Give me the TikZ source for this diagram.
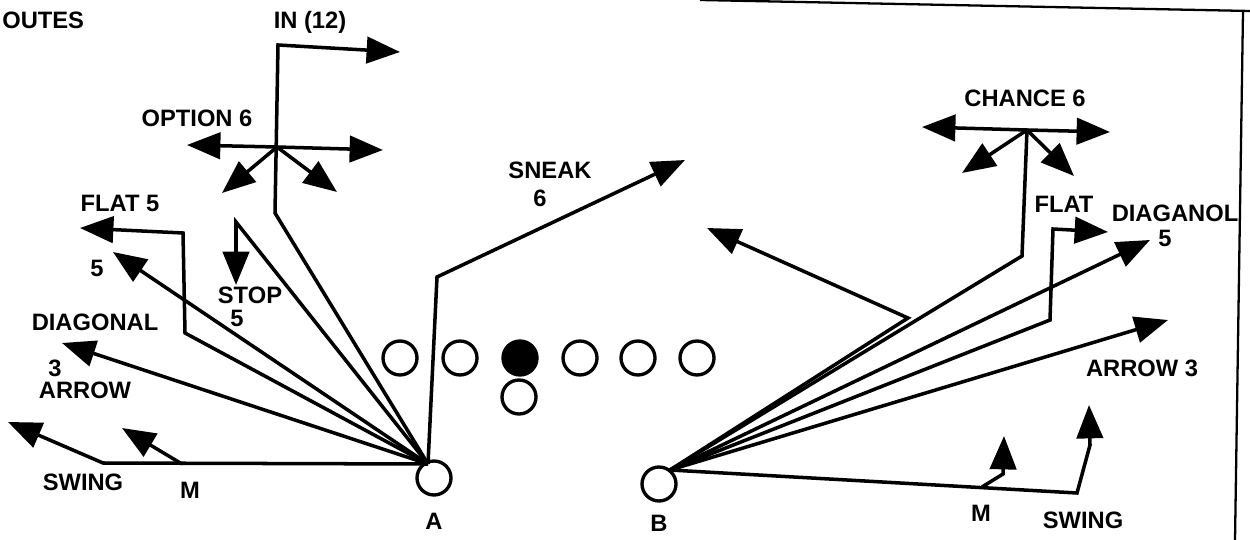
\documentclass[tikz,border=0pt]{standalone}
\usepackage{fontspec}
\setmainfont{Liberation Sans}
\usetikzlibrary{arrows.meta}
\begin{document}
\begin{tikzpicture}[x=0.02cm,y=-0.02cm,
  route/.style={line width=2pt, line join=miter},
  arr/.style={route, -{Triangle[length=19pt,width=15pt]}},
  lbl/.style={font=\fontsize{13.5}{13.5}\selectfont\bfseries, inner sep=0pt},
  player/.style={circle, draw, line width=1.9pt, minimum size=0.68cm, inner sep=0pt},
  center/.style={player, fill=black},
  frame/.style={line width=1.3pt},
]
\useasboundingbox (0,0) rectangle (1250,540);

% frame
\coordinate (f1) at (700,0);
\coordinate (f2) at (1250,11);
\coordinate (f3) at (1243,11);
\coordinate (f4) at (1235,540);
\draw[frame] (f1) -- (f2);
\draw[frame] (f3) -- (f4);

% line of scrimmage
\node[player] (l1) at (400,358) {};
\node[player] (l2) at (460,358) {};
\node[center] (l3) at (520,358) {};
\node[player] (l4) at (580,358) {};
\node[player] (l5) at (638,358) {};
\node[player] (l6) at (697,358) {};
\node[player] (qb) at (519,397) {};

% backs
\node[player] (A) at (434,478) {};
\node[player] (B) at (659,484) {};
\node[lbl] (Alab) at (434,521) {A};
\node[lbl] (Blab) at (659,523) {B};
\coordinate (a0) at (428,464);
\coordinate (b0) at (670,470);

% ---------- A routes ----------
% swing
\coordinate (sw1) at (103,463);
\coordinate (sw2) at (8,422);
\draw[arr] (a0) -- (sw1) -- (sw2);
\coordinate (m1) at (182,464);
\coordinate (m2) at (122,428);
\draw[arr] (m1) -- (m2);
% arrow 3
\coordinate (ar) at (62,343);
\draw[arr] (a0) -- (ar);
% flat 5
\coordinate (fl1) at (185,333);
\coordinate (fl2) at (183,233);
\coordinate (fl3) at (80,228);
\draw[arr] (a0) -- (fl1) -- (fl2) -- (fl3);
% 5
\coordinate (f5) at (113,252);
\draw[arr] (a0) -- (f5);
% stop
\coordinate (st1) at (236,222);
\coordinate (st2) at (236,285);
\draw[arr] (a0) -- (st1) -- (st2);
% in / option
\coordinate (in1) at (275,213);
\coordinate (op) at (277,147);
\coordinate (in2) at (278,45);
\coordinate (in3) at (400,52);
\draw[arr] (a0) -- (in1) -- (in2) -- (in3);
\coordinate (opl) at (187,145);
\coordinate (opr) at (383,150);
\coordinate (opdl) at (222,193);
\coordinate (opdr) at (337,192);
\draw[arr] (op) -- (opl);
\draw[arr] (op) -- (opr);
\draw[arr] (op) -- (opdl);
\draw[arr] (op) -- (opdr);
% sneak
\coordinate (sn1) at (437,277);
\coordinate (sn2) at (685,160);
\draw[arr] (a0) -- (sn1) -- (sn2);

% ---------- B routes ----------
\coordinate (bl1) at (908,318);
\coordinate (bl2) at (707,228);
\draw[arr] (b0) -- (bl1) -- (bl2);
\coordinate (ch1) at (1022,256);
\coordinate (ch) at (1027,130);
\draw[route] (b0) -- (ch1) -- (ch);
\coordinate (chl) at (922,127);
\coordinate (chr) at (1110,132);
\coordinate (chdl) at (962,173);
\coordinate (chdr) at (1074,176);
\draw[arr] (ch) -- (chl);
\draw[arr] (ch) -- (chr);
\draw[arr] (ch) -- (chdl);
\draw[arr] (ch) -- (chdr);
% flat
\coordinate (bf1) at (1050,320);
\coordinate (bf2) at (1053,229);
\coordinate (bf3) at (1108,232);
\draw[arr] (b0) -- (bf1) -- (bf2) -- (bf3);
% diaganol
\coordinate (bd) at (1150,240);
\draw[arr] (b0) -- (bd);
% arrow 3
\coordinate (ba) at (1168,320);
\draw[arr] (b0) -- (ba);
% swing / M
\coordinate (bs1) at (1077,493);
\coordinate (bs2) at (1090,445);
\coordinate (bs3) at (1089,405);
\draw[arr] (b0) -- (bs1) -- (bs2) -- (bs3);
\coordinate (bm1) at (982,487);
\coordinate (bm2) at (1003,474);
\coordinate (bm3) at (1004,436);
\draw[arr] (bm1) -- (bm2) -- (bm3);

% ---------- labels ----------
\node[lbl, anchor=west] (title) at (2,20) {OUTES};
\node[lbl] (tin) at (310,22) {IN (12)};
\node[lbl] (topt) at (197,118) {OPTION 6};
\node[lbl] (tflat) at (120,203) {FLAT 5};
\node[lbl] (t5) at (97,268) {5};
\node[lbl] (tstop) at (250,295) {STOP};
\node[lbl] (tstop5) at (237,318) {5};
\node[lbl] (tdiag) at (95,322) {DIAGONAL};
\node[lbl] (t3) at (55,368) {3};
\node[lbl] (tarrow) at (85,390) {ARROW};
\node[lbl] (tswing) at (83,482) {SWING};
\node[lbl] (tm) at (190,490) {M};
\node[lbl] (tsneak) at (550,170) {SNEAK};
\node[lbl] (tsneak6) at (540,198) {6};
\node[lbl] (tchance) at (1025,98) {CHANCE 6};
\node[lbl] (tbflat) at (1064,204) {FLAT};
\node[lbl] (tbdiag) at (1175,213) {DIAGANOL};
\node[lbl] (tbdiag5) at (1165,238) {5};
\node[lbl] (tbarrow) at (1142,368) {ARROW 3};
\node[lbl] (tbm) at (981,513) {M};
\node[lbl] (tbswing) at (1083,520) {SWING};
\end{tikzpicture}
\end{document}
